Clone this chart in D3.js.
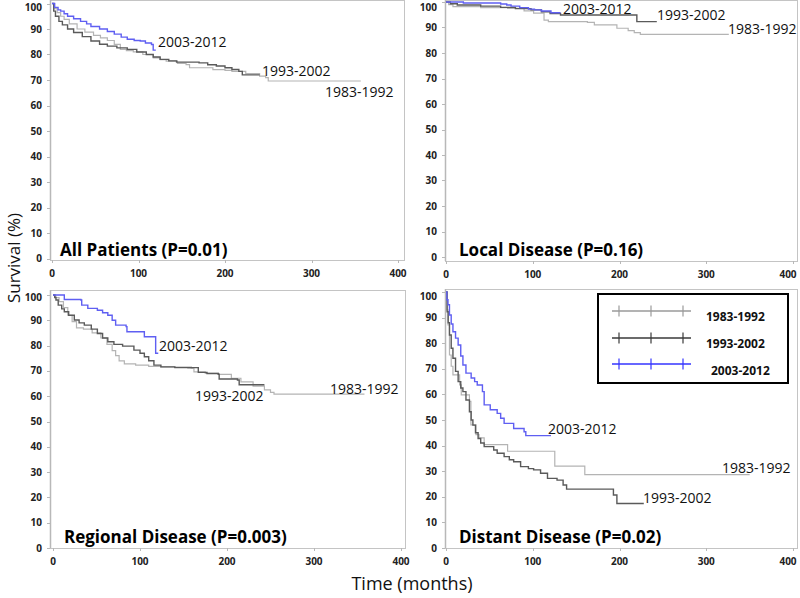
<!DOCTYPE html>
<html><head><meta charset="utf-8">
<script src="https://cdn.jsdelivr.net/npm/d3@7/dist/d3.min.js"></script>
<style>
html,body{margin:0;padding:0;background:#fff;}
svg{display:block;}
text{font-family:"Open Sans","DejaVu Sans",sans-serif;}
</style></head>
<body>
<svg id="chart" width="800" height="598"></svg>
<script>
// ---------- DATA ----------
const seriesNames = ["1983-1992", "1993-2002", "2003-2012"];
const xTicks = [0, 100, 200, 300, 400];
const yTicks = [0, 10, 20, 30, 40, 50, 60, 70, 80, 90, 100];
const panelTitles = ["All Patients (P=0.01)", "Local Disease (P=0.16)", "Regional Disease (P=0.003)", "Distant Disease (P=0.02)"];

// All patients: [months, survival %]
const allP_1983 = [[0,100],[3,98],[6,96.4],[10,95],[14,93.8],[20,92],[29,90],[38,88.8],[48,87.5],[56,86.5],[64,85.5],[72,84],[79,82],[86,81.5],[94,81],[105,80],[117,78.7],[125,78],[132,77.4],[145,76.5],[155,76],[159,74.8],[186,74.1],[200,73.8],[208,73.4],[224,72.5],[240,71.5],[247,70.9],[250,69.6],[357,69.6]];
const allP_1993 = [[0,100],[2,97],[4,95],[8,93],[12,91.6],[18,90],[25,88.6],[35,87],[45,85.3],[55,84],[64,83.3],[75,82.6],[87,82],[98,81],[109,80],[117,79],[125,78.1],[135,77.5],[144,77],[170,76.7],[180,76],[190,75.5],[200,74.8],[208,74.1],[216,73.4],[220,72],[240,72]];
const allP_2003 = [[0,100],[3,98.5],[7,97.5],[10,97],[14,96],[18,95],[25,94],[33,93],[40,92],[45,91],[55,90],[64,89],[72,88],[80,86.8],[87,86],[95,85.5],[102,85.3],[108,84.5],[115,83.9],[117,81.7],[120,81.7]];

// Local disease
const local_1983 = [[0,100],[3,99],[8,98.2],[40,97.8],[71,97.5],[90,96.5],[101,95.6],[113,92.9],[118,92.3],[163,92],[171,91],[197,89.7],[210,88.8],[217,88],[224,87.3],[326,87.3]];
const local_1993 = [[0,100],[5,99.3],[13,98.8],[40,98.4],[63,97.9],[80,97.4],[98,96.9],[110,96.2],[120,95.5],[132,94.9],[220,92.3],[243,92.3]];
const local_2003 = [[0,100],[20,99.6],[63,99.2],[70,98.8],[75,98.4],[85,97.8],[95,97.2],[102,96.9],[110,96.5],[121,95.8],[132,95.8]];

// Regional disease
const reg_1983 = [[0,100],[3,99],[7,97.4],[12,95],[17,92],[22,89.5],[27,87],[35,86.5],[45,85],[55,83],[62,80.5],[68,78],[72,76],[76,74],[82,72.8],[95,72.3],[110,71.8],[124,71.6],[140,71.2],[155,71],[162,69.6],[175,69],[190,68.6],[205,67.1],[216,65.7],[230,64],[243,62.5],[250,61.5],[254,60.8],[358,60.8]];
const reg_1993 = [[0,100],[2,99],[3.4,98],[6,96],[10,94.5],[13,93.4],[18,92],[24.5,90.1],[30,89],[36,88.1],[44,86.5],[51,84.8],[57,83],[63,81.5],[70,80.5],[80,79.8],[93,78.2],[100,77],[105,75.6],[110,74],[116,72.3],[124,71.6],[140,71.4],[159,71.3],[167,69.4],[177,69],[190,68.7],[191,66.8],[212,66.4],[214,64.5],[243,64.5]];
const reg_2003 = [[0,100],[8,100],[13,98.2],[32,98],[33,96],[40,94.7],[51,94],[57,93],[63,92],[68,90],[72,88.1],[84,87.5],[85,85.5],[104,85.5],[105,83.5],[117,83.5],[118,77],[121,77]];

// Distant disease
const dist_1983 = [[0,100],[1,93],[2.3,87.1],[4,75.4],[6,71],[8,67.6],[15.7,63.7],[17.6,59.8],[27,57.3],[28.7,48.1],[34.5,44.3],[38,43],[44,40.4],[59,40.4],[71,37.8],[124.6,37.8],[125.4,32],[159,32],[160,28.7],[350,28.7]];
const dist_1993 = [[0,100],[1.3,92.3],[2.5,88],[4,83.2],[6,78],[8,74.1],[11,69],[14,65],[17,62.5],[19.5,61.1],[23,57.8],[27,53.2],[29,50],[31,48],[34,45],[37,42.8],[40,41],[44,39.6],[55,38.3],[59,37],[67,35.7],[73,34.5],[78,33.7],[86,31.8],[95,31],[101,30.5],[109,29.2],[117,27.2],[128,26.5],[135,24.6],[139,23],[189,23],[193,20.7],[197,17.4],[228,17.4]];
const dist_2003 = [[0,100],[1,97],[2.3,95],[4,91],[6,87.5],[8,84.5],[11,82],[14,79.3],[17,75],[19.5,71.5],[23,68.3],[29,66.4],[33,65],[36,63.7],[42,61.1],[44,55.9],[51,54],[59,52.6],[63,50.7],[67,48.7],[78,46.7],[90,45.4],[92,43.9],[121,43.9]];

const panelSeries = [
  [allP_1983, allP_1993, allP_2003],
  [local_1983, local_1993, local_2003],
  [reg_1983, reg_1993, reg_2003],
  [dist_1983, dist_1993, dist_2003]
];

// ---------- LAYOUT / STYLE ----------
const layout = [
  {frame:[50,0,404,260], xr:[52,398], yr:[258.5,3.5], title:[60,256], labels:[[325,97],[262,76],[158,47]]},
  {frame:[445,0,797,261], xr:[446,793], yr:[257,2], title:[459,256], labels:[[728,34],[657,20],[563,14]]},
  {frame:[50,290,405,548], xr:[53,401], yr:[548,295], title:[64,543], labels:[[330,394],[195,401],[159,351]]},
  {frame:[445,289,797,548], xr:[446,793], yr:[548,292], title:[459,543], labels:[[722,473],[643,503],[548,434]]}
];
const curveColors = ["#b4b4b4", "#5a5a5a", "#5f5ff2"];
const curveWidths = [1.2, 1.4, 1.4];
const legendColors = ["#9a9a9a", "#3a3a3a", "#3535ff"];

const svg = d3.select("#chart");

layout.forEach((L, i) => {
  const [fx0, fy0, fx1, fy1] = L.frame;
  const x = d3.scaleLinear().domain([0, 400]).range(L.xr);
  const y = d3.scaleLinear().domain([0, 100]).range(L.yr);
  const g = svg.append("g");

  // frame
  g.append("rect").attr("x", fx0 + 0.5).attr("y", fy0 + 0.5)
    .attr("width", fx1 - fx0).attr("height", fy1 - fy0)
    .attr("fill", "none").attr("stroke", "#c4c4c4").attr("stroke-width", 1);
  g.append("line").attr("x1", fx0 + 0.5).attr("x2", fx0 + 0.5).attr("y1", fy0).attr("y2", fy1)
    .attr("stroke", "#b8b8b8").attr("stroke-width", 1.5);

  // y ticks + labels
  yTicks.forEach(v => {
    const yy = Math.round(y(v)) + 0.5;
    g.append("line").attr("x1", fx0 - 3).attr("x2", fx0).attr("y1", yy).attr("y2", yy)
      .attr("stroke", "#b8b8b8");
    g.append("text").attr("x", fx0 - 8).attr("y", Math.max(y(v), fy0 + 7))
      .attr("dy", "0.35em").attr("text-anchor", "end")
      .attr("font-size", 10).attr("font-weight", "bold").attr("fill", "#222")
      .text(v);
  });
  // x ticks + labels
  xTicks.forEach(t => {
    const xx = Math.round(x(t)) + 0.5;
    g.append("line").attr("x1", xx).attr("x2", xx).attr("y1", fy1).attr("y2", fy1 + 3)
      .attr("stroke", "#b8b8b8");
    g.append("text").attr("x", Math.min(x(t), 788)).attr("y", fy1 + 17)
      .attr("text-anchor", "middle")
      .attr("font-size", 10).attr("font-weight", "bold").attr("fill", "#222")
      .text(t);
  });

  // curves
  const line = d3.line().x(d => x(d[0])).y(d => y(d[1])).curve(d3.curveStepAfter);
  panelSeries[i].forEach((data, s) => {
    g.append("path").datum(data).attr("d", line)
      .attr("fill", "none").attr("stroke", curveColors[s]).attr("stroke-width", curveWidths[s]);
  });

  // curve labels
  seriesNames.forEach((name, s) => {
    g.append("text").attr("x", L.labels[s][0]).attr("y", L.labels[s][1])
      .attr("font-size", 14).attr("fill", "#111").text(name);
  });

  // panel title
  g.append("text").attr("x", L.title[0]).attr("y", L.title[1])
    .attr("font-size", 17).attr("font-weight", "bold").attr("fill", "#000")
    .text(panelTitles[i]);
});

// axis titles
svg.append("text").attr("transform", "translate(20,258) rotate(-90)")
  .attr("text-anchor", "middle").attr("font-size", 17).attr("fill", "#111")
  .text("Survival (%)");
svg.append("text").attr("x", 412).attr("y", 590)
  .attr("text-anchor", "middle").attr("font-size", 18).attr("fill", "#111")
  .text("Time (months)");

// legend
const leg = svg.append("g");
leg.append("rect").attr("x", 598).attr("y", 294).attr("width", 190).attr("height", 89)
  .attr("fill", "#fff").attr("stroke", "#000").attr("stroke-width", 2);
const legRows = [311, 338, 364];
const legTextY = [321, 348, 375];
const legTextX = [706, 706, 711];
seriesNames.forEach((name, s) => {
  const yy = legRows[s];
  leg.append("line").attr("x1", 612).attr("x2", 691).attr("y1", yy).attr("y2", yy)
    .attr("stroke", legendColors[s]).attr("stroke-width", 1.3);
  [619, 651, 683].forEach(tx => {
    leg.append("line").attr("x1", tx).attr("x2", tx).attr("y1", yy - 5.5).attr("y2", yy + 5.5)
      .attr("stroke", legendColors[s]).attr("stroke-width", 1.2);
  });
  leg.append("text").attr("x", legTextX[s]).attr("y", legTextY[s])
    .attr("font-size", 12).attr("font-weight", "bold").attr("fill", "#111").text(name);
});
</script>
</body></html>
